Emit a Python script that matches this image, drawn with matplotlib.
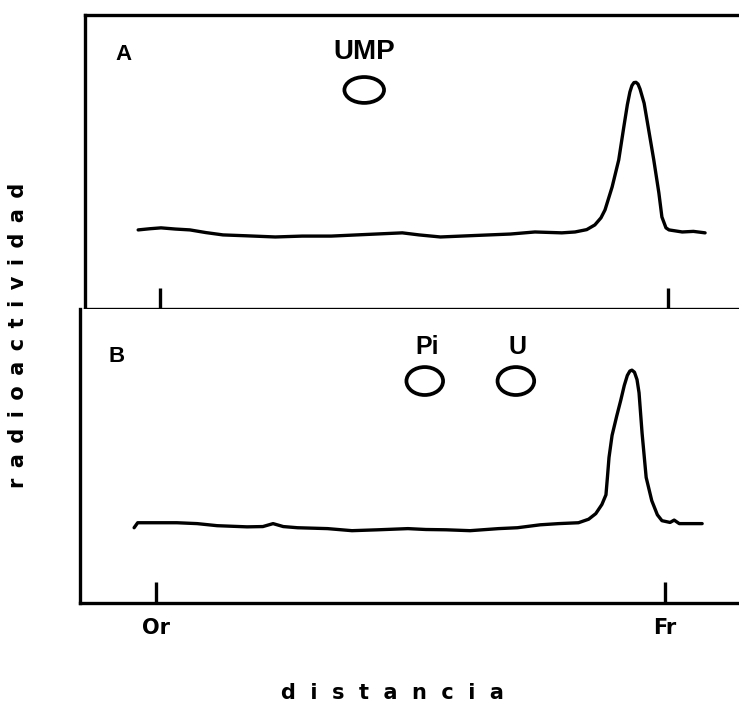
import matplotlib
matplotlib.use("Agg")
import matplotlib.pyplot as plt
from matplotlib.patches import Ellipse

# ---- data (distance: origin Or = 0, front Fr = 10; radioactivity arbitrary units) ----
dist_a = [-0.43, -0.2, 0.02, 0.3, 0.59, 0.9, 1.24, 1.7, 2.27, 2.8, 3.37, 4.0, 4.77, 5.1,
          5.52, 6.2, 6.9, 7.38, 7.91, 8.17, 8.4, 8.56, 8.68, 8.76, 8.90, 9.03, 9.13, 9.2,
          9.25, 9.29, 9.33, 9.37, 9.41, 9.45, 9.53, 9.61, 9.72, 9.82, 9.88, 9.96, 10.02,
          10.28, 10.5, 10.73]
rad_a = [26.9, 27.3, 27.6, 27.2, 26.9, 26.0, 25.2, 24.9, 24.5, 24.8, 24.8, 25.3, 25.9, 25.2,
         24.5, 25.0, 25.5, 26.2, 25.9, 26.2, 27.0, 28.6, 31.0, 33.7, 41.5, 50.7, 61.9, 69.5,
         73.8, 76.0, 77.0, 77.1, 76.5, 74.8, 70.0, 61.9, 50.7, 39.5, 31.3, 27.6, 26.9,
         26.2, 26.4, 25.9]

dist_b = [-0.43, -0.36, 0.02, 0.41, 0.81, 1.20, 1.79, 2.1, 2.3, 2.5, 2.78, 3.37, 3.85, 4.36,
          4.95, 5.3, 5.70, 6.17, 6.73, 7.10, 7.55, 7.91, 8.30, 8.50, 8.64, 8.76, 8.84, 8.87,
          8.90, 8.96, 9.05, 9.13, 9.2, 9.26, 9.31, 9.35, 9.40, 9.45, 9.49, 9.55, 9.63, 9.74,
          9.85, 9.94, 10.1, 10.18, 10.28, 10.73]
rad_b = [25.6, 27.3, 27.3, 27.3, 27.0, 26.3, 25.9, 26.0, 27.0, 26.0, 25.6, 25.3, 24.6, 24.9,
         25.3, 25.0, 24.9, 24.6, 25.3, 25.6, 26.6, 27.0, 27.3, 28.5, 30.4, 33.5, 36.8, 43.0,
         49.5, 57.0, 63.5, 68.9, 74.0, 77.4, 78.9, 79.2, 78.5, 76.0, 71.5, 57.7, 42.7, 34.8,
         30.0, 28.0, 27.4, 28.2, 27.0, 27.0]

# standard spots (label, position)
spots_a_labels = ["UMP"]
spots_a_x = [4.02]
spots_b_labels = ["Pi", "U"]
spots_b_x = [5.28, 7.07]

tick_pos = [0, 10]
tick_labels = ["Or", "Fr"]

# ---- figure ----
fig = plt.figure(figsize=(7.39, 7.07), dpi=100)
W, H = 739, 707
lw = 2.4

def make_ax(left, top, bottom):
    return fig.add_axes([left / W, (H - bottom) / H, (W - left) / W, (bottom - top) / H])

ax_a = make_ax(85, 15, 309)
ax_b = make_ax(80, 309, 603)

ax_a.set_xlim((85 - 160) / 50.8, (739 - 160) / 50.8)
ax_b.set_xlim((80 - 156) / 50.9, (739 - 156) / 50.9)

for ax in (ax_a, ax_b):
    ax.set_ylim(0, 100)
    ax.spines["right"].set_visible(False)
    for s in ("left", "top", "bottom"):
        ax.spines[s].set_linewidth(lw)
    ax.set_yticks([])
    ax.set_xticks(tick_pos)
    ax.tick_params(axis="x", direction="in", length=15, width=lw, pad=11)
ax_b.spines["top"].set_visible(False)
ax_a.set_xticklabels(["", ""])
ax_b.set_xticklabels(tick_labels, fontsize=15, fontweight="bold", family="DejaVu Sans")

ax_a.plot(dist_a, rad_a, color="black", lw=lw, solid_joinstyle="round", solid_capstyle="round")
ax_b.plot(dist_b, rad_b, color="black", lw=lw, solid_joinstyle="round", solid_capstyle="round")

lab_font = dict(family="Liberation Sans", fontweight="bold", color="black")
ax_a.text(-0.71, 86.7, "A", fontsize=16, ha="center", va="center", **lab_font)
ax_b.text(-0.77, 84.0, "B", fontsize=16, ha="center", va="center", **lab_font)

for lbl, x in zip(spots_a_labels, spots_a_x):
    ax_a.text(x, 87.5, lbl, fontsize=20, ha="center", va="center", **lab_font)
    ax_a.add_patch(Ellipse((x, 74.5), 0.78, 8.8, fill=False, lw=lw + 0.3, ec="black"))
for lbl, x in zip(spots_b_labels, spots_b_x):
    ax_b.text(x + 0.04, 87.0, lbl, fontsize=18, ha="center", va="center", **lab_font)
    ax_b.add_patch(Ellipse((x, 75.5), 0.72, 9.5, fill=False, lw=lw + 0.3, ec="black"))

sep = "\u2002"
fig.text(18 / W, 1 - 335 / H, sep.join("radioactividad"), rotation=90,
         ha="center", va="center", fontsize=15, fontweight="bold", family="DejaVu Sans")
fig.text(392 / W, 1 - 693 / H, "  ".join("distancia"),
         ha="center", va="center", fontsize=15, fontweight="bold", family="DejaVu Sans")

fig.savefig("out.png", dpi=100)
